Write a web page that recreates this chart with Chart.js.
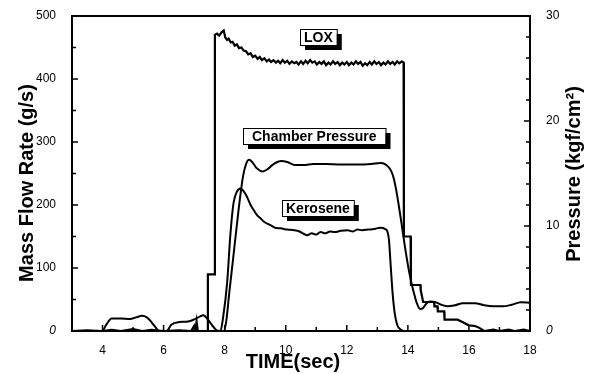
<!DOCTYPE html>
<html>
<head>
<meta charset="utf-8">
<script src="https://cdn.jsdelivr.net/npm/chart.js@4"></script>
<style>
    body { margin: 0; background: #fff; }
    #chart { display: block; }
</style>
</head>
<body>
<canvas id="chart" width="594" height="374"></canvas>
<script>
// Mass flow and chamber pressure during a hot-fire test

// tick values
const timeTicks = [4, 6, 8, 10, 12, 14, 16, 18];
const flowTicks = [0, 100, 200, 300, 400, 500];
const pressureTicks = [0, 10, 20, 30];

// LOX mass flow (sec, g/s)
const loxPoints = [
    [3, 0], [3.5, 1], [4, 0], [4.3, 2], [4.6, 0], [5, 3], [5.3, 0], [5.6, 2], [6, 0],
    [6.5, 1], [6.9, 0], [7.0, 8], [7.04, 0], [7.08, 15], [7.12, 0], [7.44, 0],
    [7.45, 90], [7.66, 90], [7.68, 470], [7.75, 472], [7.82, 469], [7.9, 474], [7.97, 477],
    [8.02, 466], [8.08, 462], [8.13, 464], [8.2, 458], [8.26, 459], [8.33, 453], [8.4, 455],
    [8.47, 449], [8.55, 450], [8.62, 445], [8.7, 444], [8.77, 439], [8.85, 441], [8.92, 435],
    [9.0, 437], [9.08, 432], [9.15, 435], [9.22, 430], [9.3, 433], [9.38, 428], [9.45, 431],
    [9.52, 427], [9.6, 430], [9.68, 426], [9.75, 429], [9.82, 425], [9.9, 430], [9.97, 426],
    [10.05, 429], [10.12, 424], [10.2, 428], [10.28, 425], [10.35, 427], [10.42, 423],
    [10.5, 428], [10.57, 424], [10.65, 429], [10.72, 425], [10.8, 430], [10.87, 426],
    [10.95, 428], [11.02, 423], [11.1, 427], [11.17, 424], [11.25, 428], [11.32, 422],
    [11.4, 426], [11.47, 423], [11.55, 428], [11.62, 424], [11.7, 427], [11.77, 422],
    [11.85, 426], [11.92, 423], [12.0, 427], [12.07, 422], [12.15, 426], [12.22, 423],
    [12.3, 428], [12.37, 424], [12.45, 427], [12.52, 421], [12.6, 425], [12.67, 422],
    [12.75, 427], [12.82, 423], [12.9, 428], [12.97, 424], [13.05, 427], [13.12, 422],
    [13.2, 426], [13.27, 423], [13.35, 428], [13.42, 424], [13.5, 427], [13.57, 423],
    [13.65, 428], [13.72, 425], [13.8, 428], [13.86, 426],
    [13.87, 150], [14.09, 150], [14.1, 73], [14.41, 73], [14.42, 65], [14.5, 46],
    [14.86, 46], [14.87, 39], [14.97, 39], [14.98, 31], [15.19, 31], [15.2, 18],
    [15.63, 18], [15.8, 14], [16.0, 9], [16.2, 8], [16.34, 5], [16.5, 0],
    [16.8, 2], [17.0, 0], [17.3, 2], [17.5, 0], [17.8, 2], [18, 0]
];

// Kerosene mass flow (sec, g/s)
const keroPoints = [
    [3, 0], [7.86, 0], [7.95, 22], [8.08, 76], [8.19, 155], [8.29, 203], [8.4, 221],
    [8.52, 226], [8.62, 222], [8.73, 213], [8.85, 200], [8.95, 192], [9.06, 184],
    [9.17, 179], [9.3, 173], [9.5, 168], [9.65, 164], [9.83, 163], [10.05, 161],
    [10.27, 160], [10.45, 158], [10.6, 154], [10.7, 152], [10.85, 155], [11.0, 153],
    [11.14, 157], [11.3, 155], [11.45, 158], [11.6, 157], [11.8, 159], [12.03, 160],
    [12.2, 158], [12.35, 161], [12.5, 160], [12.7, 161], [12.9, 162], [13.1, 164],
    [13.25, 162], [13.33, 158], [13.38, 145], [13.44, 102], [13.5, 60], [13.57, 28],
    [13.65, 10], [13.75, 3], [13.9, 0], [18, 0]
];

// Chamber pressure (sec, kgf/cm2)
const chamberPoints = [
    [3, 0], [4.0, 0], [4.1, 0.5], [4.3, 1.2], [4.6, 1.2], [4.9, 1.15], [5.1, 1.3],
    [5.3, 1.45], [5.45, 1.3], [5.6, 0.85], [5.75, 0.3], [5.85, 0], [6.1, 0], [6.25, 0.6],
    [6.5, 0.85], [6.8, 0.9], [7.0, 1.1], [7.2, 1.4], [7.3, 1.5], [7.45, 1.1], [7.6, 0.5],
    [7.75, 0.05], [7.97, 0], [8.05, 0.9], [8.15, 3.6], [8.3, 7.5], [8.45, 11.4],
    [8.6, 14.7], [8.7, 15.9], [8.8, 16.3], [8.9, 16.1], [9.05, 15.5], [9.25, 15.2],
    [9.4, 15.4], [9.6, 15.9], [9.85, 16.2], [10.05, 16.1], [10.3, 15.8], [10.6, 15.8],
    [10.9, 15.9], [11.3, 15.9], [11.8, 15.85], [12.3, 15.85], [12.8, 15.9], [13.1, 16.0],
    [13.25, 15.9], [13.4, 15.5], [13.5, 14.9], [13.6, 13.7], [13.7, 12.0], [13.8, 10.1],
    [13.9, 8.1], [14.0, 6.3], [14.1, 4.8], [14.2, 3.6], [14.3, 2.6], [14.4, 2.1],
    [14.5, 2.2], [14.6, 2.6], [14.72, 2.8], [14.9, 2.75], [15.1, 2.5], [15.3, 2.35],
    [15.55, 2.45], [15.8, 2.65], [16.2, 2.65], [16.5, 2.45], [16.8, 2.35], [17.1, 2.35],
    [17.4, 2.5], [17.7, 2.75], [18, 2.7]
];

// boxed curve labels, anchored in data units (left axis)
const curveLabels = [
    { text: 'LOX', x: 11.06, y: 467, pad: 4 },
    { text: 'Chamber Pressure', x: 10.95, y: 309, pad: 9 },
    { text: 'Kerosene', x: 11.06, y: 195, pad: 4 }
];

const FONT = 'Arial, "Liberation Sans", sans-serif';

function toXY(points) {
    return points.map(p => ({ x: p[0], y: p[1] }));
}

function fixedTicks(values) {
    return function(scale) {
        scale.ticks = values.map(v => ({ value: v }));
    };
}

function tickFont(ctx) {
    const zero = ctx.tick && ctx.tick.value === 0;
    return { family: FONT, size: 12, style: zero ? 'italic' : 'normal' };
}

// frame, inward ticks, titles and labels
const decorPlugin = {
    id: 'decor',
    afterDatasetsDraw(chart) {
        const ctx = chart.ctx;
        const area = chart.chartArea;
        const sx = chart.scales.x, sy = chart.scales.y, sp = chart.scales.y1;

        ctx.save();
        ctx.strokeStyle = '#000';
        ctx.lineWidth = 2;
        ctx.strokeRect(area.left, area.top, area.right - area.left, area.bottom - area.top);

        ctx.lineWidth = 1.5;
        ctx.beginPath();
        for (let t = 3; t <= 18; t++) {
            const px = sx.getPixelForValue(t);
            const len = t % 2 === 0 ? 6 : 4;
            ctx.moveTo(px, area.bottom);
            ctx.lineTo(px, area.bottom - len);
        }
        for (let v = 0; v <= 500; v += 50) {
            const py = sy.getPixelForValue(v);
            const len = v % 100 === 0 ? 6 : 4;
            ctx.moveTo(area.left, py);
            ctx.lineTo(area.left + len, py);
        }
        for (let v = 0; v <= 30; v += 2) {
            const py = sp.getPixelForValue(v);
            const len = v % 10 === 0 ? 6 : 4;
            ctx.moveTo(area.right, py);
            ctx.lineTo(area.right - len, py);
        }
        ctx.stroke();

        // axis titles
        ctx.fillStyle = '#000';
        ctx.font = 'bold 20px ' + FONT;
        ctx.textAlign = 'center';
        ctx.textBaseline = 'middle';
        ctx.fillText('TIME(sec)', 293, 362);

        ctx.save();
        ctx.translate(27, 183);
        ctx.rotate(-Math.PI / 2);
        ctx.fillText('Mass Flow Rate (g/s)', 0, 0);
        ctx.restore();

        ctx.save();
        ctx.translate(574, 174);
        ctx.rotate(-Math.PI / 2);
        ctx.fillText('Pressure (kgf/cm\u00B2)', 0, 0);
        ctx.restore();

        // boxed labels with drop shadow
        ctx.font = 'bold 14px ' + FONT;
        curveLabels.forEach(lab => {
            const cx = sx.getPixelForValue(lab.x);
            const cy = sy.getPixelForValue(lab.y);
            const w = ctx.measureText(lab.text).width + lab.pad * 2;
            const h = 16;
            const x0 = Math.round(cx - w / 2), y0 = Math.round(cy - h / 2);
            ctx.fillStyle = '#000';
            ctx.fillRect(x0 + 5, y0 + 5, w, h);
            ctx.fillStyle = '#fff';
            ctx.fillRect(x0, y0, w, h);
            ctx.lineWidth = 1;
            ctx.strokeStyle = '#000';
            ctx.strokeRect(x0 + 0.5, y0 + 0.5, w, h);
            ctx.fillStyle = '#000';
            ctx.fillText(lab.text, x0 + w / 2, y0 + h / 2 + 1);
        });
        ctx.restore();
    }
};

const chart = new Chart(document.getElementById('chart'), {
    type: 'line',
    data: {
        datasets: [
            {
                label: 'LOX',
                data: toXY(loxPoints),
                yAxisID: 'y',
                borderColor: '#000',
                borderWidth: 2.2,
                tension: 0
            },
            {
                label: 'Kerosene',
                data: toXY(keroPoints),
                yAxisID: 'y',
                borderColor: '#000',
                borderWidth: 2,
                cubicInterpolationMode: 'monotone'
            },
            {
                label: 'Chamber Pressure',
                data: toXY(chamberPoints),
                yAxisID: 'y1',
                borderColor: '#000',
                borderWidth: 2,
                cubicInterpolationMode: 'monotone'
            }
        ]
    },
    options: {
        responsive: false,
        animation: false,
        devicePixelRatio: 1,
        layout: { padding: { top: 16, left: 0, right: 0, bottom: 0 } },
        elements: { point: { radius: 0 } },
        plugins: {
            legend: { display: false },
            tooltip: { enabled: false }
        },
        scales: {
            x: {
                type: 'linear',
                min: 3,
                max: 18,
                afterBuildTicks: fixedTicks(timeTicks),
                afterFit: function(scale) { scale.height = 43; },
                grid: { display: false },
                border: { display: false },
                ticks: { color: '#000', font: tickFont, padding: 4, maxRotation: 0 }
            },
            y: {
                position: 'left',
                min: 0,
                max: 500,
                afterBuildTicks: fixedTicks(flowTicks),
                afterFit: function(scale) { scale.width = 72; },
                grid: { display: false },
                border: { display: false },
                ticks: { color: '#000', font: tickFont, padding: 8 }
            },
            y1: {
                position: 'right',
                min: 0,
                max: 30,
                afterBuildTicks: fixedTicks(pressureTicks),
                afterFit: function(scale) { scale.width = 64; },
                grid: { display: false },
                border: { display: false },
                ticks: { color: '#000', font: tickFont, padding: 8 }
            }
        }
    },
    plugins: [decorPlugin]
});
</script>
</body>
</html>
